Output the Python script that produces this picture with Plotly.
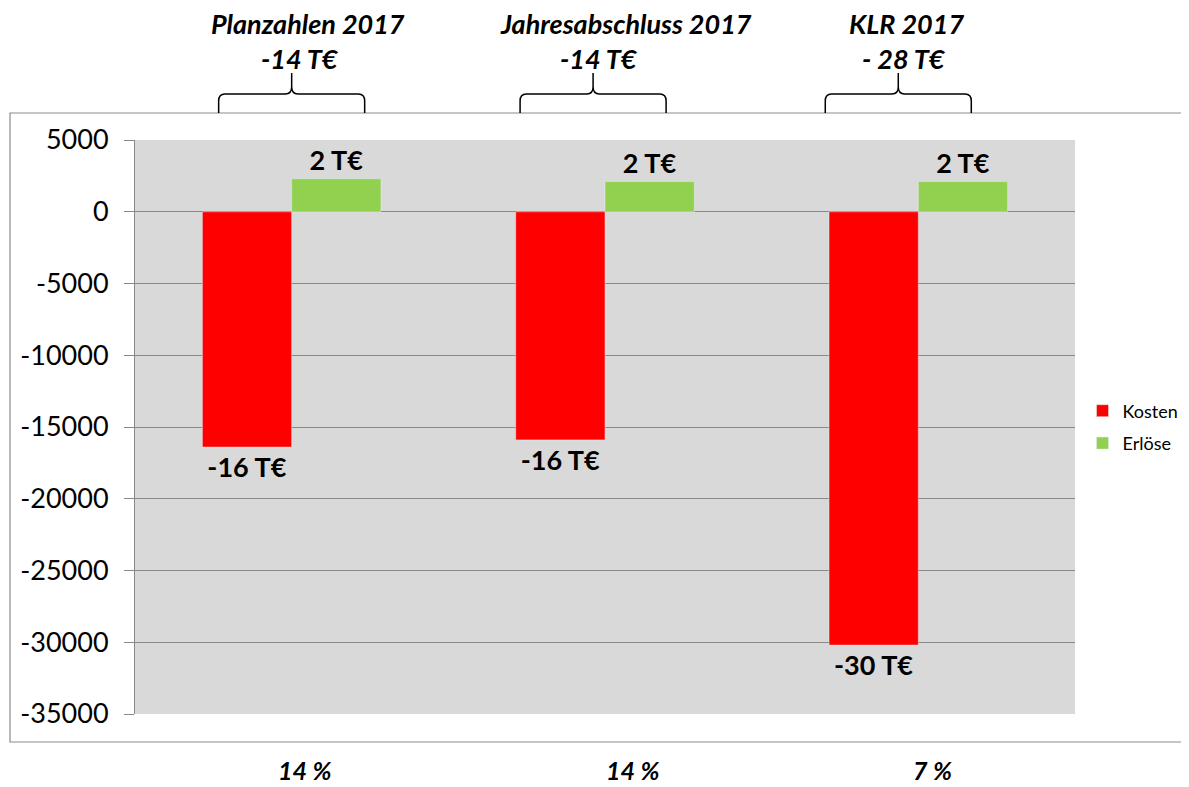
import plotly.graph_objects as go

categories = ["Planzahlen 2017", "Jahresabschluss 2017", "KLR 2017"]
kosten = [-16400, -15900, -30200]
erloese = [2300, 2100, 2100]
kosten_labels = ["-16 T€", "-16 T€", "-30 T€"]
erloese_labels = ["2 T€", "2 T€", "2 T€"]
totals = ["-14 T€", "-14 T€", "- 28 T€"]
percentages = ["14 %", "14 %", "7 %"]
y_ticks = [5000, 0, -5000, -10000, -15000, -20000, -25000, -30000, -35000]

FONT = "Lato"

fig = go.Figure()
fig.add_trace(go.Bar(
    name="Kosten", x=categories, y=kosten, marker_color="#ff0000", legendgroup="k",
    text=kosten_labels, textposition="outside", constraintext="none", cliponaxis=False,
    textfont=dict(family=FONT, size=27, color="black", weight="bold"),
))
fig.add_trace(go.Bar(
    name="Erlöse", x=categories, y=erloese, marker_color="#92d050", legendgroup="e",
    text=erloese_labels, textposition="outside", constraintext="none", cliponaxis=False,
    textfont=dict(family=FONT, size=27, color="black", weight="bold"),
))

annotations = []
shapes = []
title_shift = [16, 21, -12]
total_shift = [8, -6, -14]
brace_shift = [0.0, -0.038, -0.064]
pct_shift = [13, 28, 14]
half = 0.233
for i, cat in enumerate(categories):
    annotations.append(dict(
        x=cat, xref="x", y=(714 - 23) / 574, yref="paper", text=cat, showarrow=False,
        xshift=title_shift[i], font=dict(family=FONT, size=27, color="black", weight="bold", style="italic"),
        yanchor="middle"))
    annotations.append(dict(
        x=cat, xref="x", y=(714 - 59) / 574, yref="paper", text=totals[i], showarrow=False,
        xshift=total_shift[i], font=dict(family=FONT, size=27, color="black", weight="bold", style="italic"),
        yanchor="middle"))
    annotations.append(dict(
        x=cat, xref="x", y=(714 - 770) / 574, yref="paper", text=percentages[i], showarrow=False,
        xshift=pct_shift[i], font=dict(family=FONT, size=25, color="black", weight="bold", style="italic"),
        yanchor="middle"))
    xc = i + brace_shift[i]
    x0, x1 = xc - half, xc + half
    yb = (714 - 113) / 574
    ya = (714 - 94) / 574
    yt = (714 - 73) / 574
    r = 0.02
    dy = 0.012
    path = (f"M {x0},{yb} L {x0},{ya - dy} Q {x0},{ya} {x0 + r},{ya} "
            f"L {xc - r},{ya} Q {xc},{ya} {xc},{ya + dy} L {xc},{yt} "
            f"M {xc},{ya + dy} Q {xc},{ya} {xc + r},{ya} "
            f"L {x1 - r},{ya} Q {x1},{ya} {x1},{ya - dy} L {x1},{yb}")
    shapes.append(dict(type="path", path=path, xref="x", yref="paper",
                       line=dict(color="black", width=1.5)))

shapes.append(dict(type="rect", xref="paper", yref="paper",
                   x0=(10 - 135) / 940, x1=(1200 - 135) / 940,
                   y0=(714 - 742) / 574, y1=(714 - 113) / 574,
                   line=dict(color="#8c8c8c", width=1.2), fillcolor="rgba(0,0,0,0)", layer="below"))

fig.update_layout(
    width=1181, height=779,
    margin=dict(l=127, r=114, t=132, b=73, autoexpand=False),
    paper_bgcolor="white", plot_bgcolor="#d9d9d9",
    barmode="group", bargap=0.43, bargroupgap=0,
    font=dict(family=FONT, color="black"),
    showlegend=True,
    legend=dict(x=1.008, y=0.5, xanchor="left", yanchor="middle",
                font=dict(family=FONT, size=18, color="black"),
                bgcolor="rgba(0,0,0,0)", tracegroupgap=6),
    annotations=annotations, shapes=shapes,
)
fig.update_xaxes(showticklabels=False, showgrid=False, zeroline=False, showline=False, ticks="")
fig.update_yaxes(range=[-35000, 5000], tickvals=y_ticks, ticktext=[str(v) for v in y_ticks],
                 showgrid=True, gridcolor="#898989", gridwidth=1,
                 zeroline=True, zerolinecolor="#898989", zerolinewidth=1,
                 showline=True, linecolor="#898989", linewidth=1,
                 ticks="outside", ticklen=10, tickcolor="#898989",
                 ticklabelstandoff=10,
                 tickfont=dict(family=FONT, size=27, color="black"))

fig.write_html("out.html")
